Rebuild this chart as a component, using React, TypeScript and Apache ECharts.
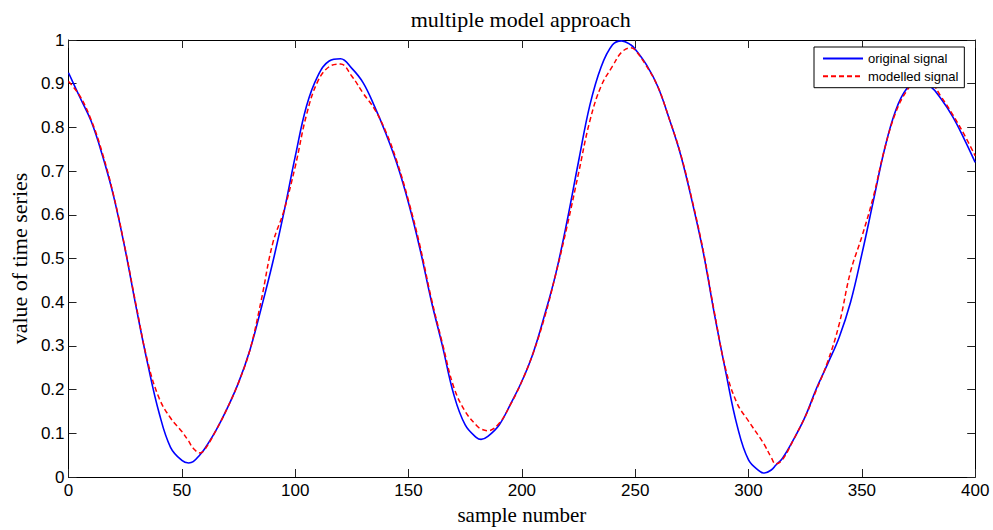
import React, { useEffect, useRef } from "react";
import * as echarts from "echarts";

const sampleNumbers = [
  0, 5, 10, 15, 20, 25, 30, 35, 40, 45, 50, 53, 55, 58, 60, 65, 70, 75, 80, 85, 90, 95,
  100, 105, 110, 115, 120, 125, 130, 135, 140, 145, 150, 155, 160, 165, 170, 175, 180, 182, 185, 190, 195,
  200, 205, 210, 215, 220, 225, 230, 235, 240, 244, 248, 250, 255, 260, 265, 270, 275, 280, 285, 290, 295,
  300, 305, 307, 310, 312, 315, 320, 325, 330, 335, 340, 345, 350, 355, 360, 365, 370, 375, 380, 385, 390, 395, 400,
];

const originalSignal = [
  0.925, 0.869, 0.814, 0.735, 0.64, 0.52, 0.384, 0.257, 0.146, 0.068, 0.038, 0.032, 0.035, 0.051, 0.064, 0.106, 0.157, 0.216, 0.29, 0.386, 0.489, 0.605,
  0.733, 0.849, 0.918, 0.952, 0.957, 0.935, 0.902, 0.848, 0.786, 0.715, 0.627, 0.523, 0.404, 0.299, 0.188, 0.119, 0.09, 0.086, 0.093, 0.119, 0.167,
  0.219, 0.284, 0.37, 0.466, 0.587, 0.722, 0.851, 0.939, 0.989, 0.998, 0.989, 0.979, 0.943, 0.893, 0.82, 0.738, 0.633, 0.515, 0.371, 0.239, 0.117,
  0.039, 0.013, 0.009, 0.016, 0.027, 0.043, 0.087, 0.138, 0.203, 0.26, 0.32, 0.4, 0.51, 0.63, 0.75, 0.84, 0.89, 0.905, 0.895, 0.865, 0.825, 0.775, 0.72,
];

const modelledSignal = [
  0.905, 0.872, 0.817, 0.74, 0.642, 0.522, 0.388, 0.262, 0.18, 0.135, 0.104, 0.082, 0.066, 0.055, 0.062, 0.106, 0.157, 0.216, 0.29, 0.404, 0.533, 0.609,
  0.71, 0.829, 0.906, 0.939, 0.945, 0.917, 0.878, 0.842, 0.79, 0.72, 0.632, 0.53, 0.41, 0.305, 0.205, 0.15, 0.118, 0.11, 0.106, 0.123, 0.166,
  0.219, 0.284, 0.365, 0.465, 0.575, 0.695, 0.815, 0.895, 0.94, 0.972, 0.982, 0.977, 0.94, 0.893, 0.82, 0.74, 0.636, 0.518, 0.375, 0.245, 0.168,
  0.128, 0.09, 0.074, 0.045, 0.03, 0.04, 0.087, 0.138, 0.2, 0.265, 0.35, 0.47, 0.55, 0.64, 0.75, 0.835, 0.885, 0.91, 0.905, 0.87, 0.83, 0.785, 0.735,
];

const seriesNames = ["original signal", "modelled signal"];
const chartTitle = "multiple model approach";
const xName = "sample number";
const yName = "value of time series";

const SANS = '"Liberation Sans", Arial, Helvetica, sans-serif';
const SERIF = '"Liberation Serif", "Times New Roman", Times, serif';

export default function App() {
  const ref = useRef<HTMLDivElement>(null);

  useEffect(() => {
    if (!ref.current) return;
    const chart = echarts.init(ref.current, null, { renderer: "svg" });
    const axisColor = "#000";
    const tickColor = "#222";
    const labelStyle = { fontFamily: SANS, fontSize: 17, color: "#000" };

    const baseX = {
      type: "value",
      min: 0,
      max: 400,
      interval: 50,
      axisLine: { show: true, onZero: false, lineStyle: { color: axisColor, width: 1 } },
      axisTick: { show: true, inside: true, length: 8, lineStyle: { color: tickColor, width: 1 } },
      splitLine: { show: false },
    };
    const baseY = {
      type: "value",
      min: 0,
      max: 1,
      interval: 0.1,
      axisLine: { show: true, onZero: false, lineStyle: { color: axisColor, width: 1 } },
      axisTick: { show: true, inside: true, length: 8, lineStyle: { color: tickColor, width: 1 } },
      splitLine: { show: false },
    };

    chart.setOption({
      animation: false,
      backgroundColor: "#ffffff",
      grid: { left: 66.4, right: 17.8, top: 40, bottom: 50.7, containLabel: false },
      xAxis: [
        {
          ...baseX,
          position: "bottom",
          axisLabel: { ...labelStyle, margin: 5 },
          name: xName,
          nameLocation: "middle",
          nameGap: 27,
          nameTextStyle: { fontFamily: SERIF, fontSize: 21, color: "#000" },
        },
        { ...baseX, position: "top", axisLabel: { show: false } },
      ],
      yAxis: [
        {
          ...baseY,
          position: "left",
          axisLabel: {
            ...labelStyle,
            margin: 4,
            formatter: (v: number) => (v === 0 ? "0" : v === 1 ? "1" : v.toFixed(1)),
          },
          name: yName,
          nameLocation: "middle",
          nameGap: 35,
          nameTextStyle: { fontFamily: SERIF, fontSize: 22, color: "#000" },
        },
        { ...baseY, position: "right", axisLabel: { show: false } },
      ],
      legend: {
        orient: "vertical",
        left: 814,
        top: 47,
        itemWidth: 40,
        itemHeight: 14,
        itemGap: 4.7,
        padding: [5, 6, 5, 8],
        backgroundColor: "#ffffff",
        borderColor: "#000",
        borderWidth: 1,
        borderRadius: 0,
        itemStyle: { opacity: 0 },
        lineStyle: { opacity: 1 },
        textStyle: { fontFamily: SANS, fontSize: 13, color: "#000" },
        data: seriesNames,
      },
      graphic: [
        {
          type: "text",
          x: 520.7,
          y: 19,
          style: {
            text: chartTitle,
            fill: "#000",
            font: `22px ${SERIF}`,
            align: "center",
            verticalAlign: "middle",
            textAlign: "center",
            textVerticalAlign: "middle",
          },
        },
      ],
      series: [
        {
          name: seriesNames[0],
          type: "line",
          data: sampleNumbers.map((s, i) => [s, originalSignal[i]]),
          symbol: "none",
          showSymbol: false,
          smooth: 0.4,
          lineStyle: { color: "#0000ff", width: 1.6 },
          itemStyle: { color: "#0000ff" },
        },
        {
          name: seriesNames[1],
          type: "line",
          data: sampleNumbers.map((s, i) => [s, modelledSignal[i]]),
          symbol: "none",
          showSymbol: false,
          smooth: 0.4,
          lineStyle: { color: "#ff0000", width: 1.5, type: [5, 3] },
          itemStyle: { color: "#ff0000" },
        },
      ],
    });

    return () => chart.dispose();
  }, []);

  return (
    <div
      ref={ref}
      style={{ position: "absolute", left: 0, top: 0, width: 993, height: 530 }}
    />
  );
}
